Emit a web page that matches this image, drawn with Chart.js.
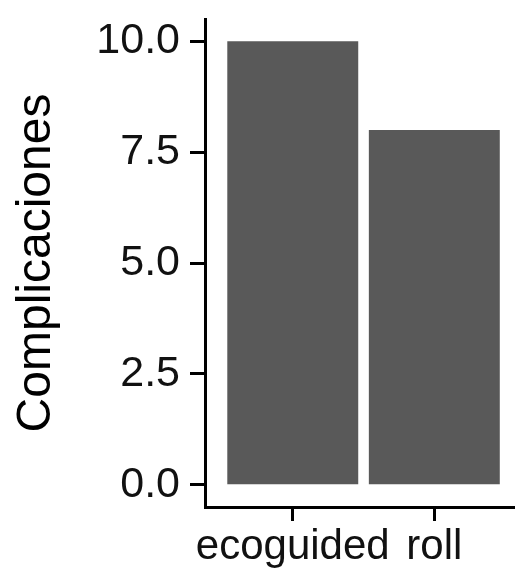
<!DOCTYPE html>
<html>
<head>
<meta charset="utf-8">
<script src="https://cdn.jsdelivr.net/npm/chart.js@4"></script>
<style>
  html, body { margin: 0; padding: 0; background: #fff; }
  #wrap { width: 515px; height: 568px; position: relative; }
</style>
</head>
<body>
<div id="wrap"><canvas id="barChart"></canvas></div>
<script>
// data
const categories = ["ecoguided", "roll"];
const complicaciones = [10, 8];
const yTicks = [0, 2.5, 5, 7.5, 10];

Chart.defaults.font.family = "'Liberation Sans', Arial, sans-serif";
Chart.defaults.color = "#111";

const ctx = document.getElementById("barChart").getContext("2d");
new Chart(ctx, {
    type: "bar",
    data: {
        datasets: [{
            label: "Complicaciones",
            data: categories.map((c, i) => ({ x: i + 1, y: complicaciones[i] })),
            backgroundColor: "#595959",
            borderWidth: 0,
            barPercentage: 0.925,
            categoryPercentage: 1
        }]
    },
    options: {
        responsive: true,
        maintainAspectRatio: false,
        animation: false,
        layout: { padding: { top: 19, left: 0, right: 0, bottom: 0 } },
        plugins: { legend: { display: false }, tooltip: { enabled: false } },
        scales: {
            x: {
                type: "linear",
                min: 0.38,
                max: 2.57,
                offset: false,
                afterBuildTicks: (scale) => { scale.ticks = categories.map((c, i) => ({ value: i + 1 })); },
                afterFit: (scale) => {
                    scale.height = 61;
                    scale.paddingLeft = 0;
                    scale.paddingRight = 0;
                },
                ticks: {
                    callback: (v) => categories[Math.round(v) - 1],
                    font: { size: 42 },
                    padding: 1,
                    maxRotation: 0,
                    autoSkip: false
                },
                grid: { display: true, offset: false, drawOnChartArea: false, tickLength: 14, tickWidth: 3, tickColor: "#000" },
                border: { display: true, color: "#000", width: 3 }
            },
            y: {
                min: -0.5,
                max: 10.5,
                afterBuildTicks: (scale) => { scale.ticks = yTicks.map(v => ({ value: v })); },
                afterFit: (scale) => {
                    scale.width = 205;
                    scale.paddingTop = 0;
                    scale.paddingBottom = 0;
                },
                ticks: {
                    callback: (v) => v.toFixed(1),
                    font: { size: 43 },
                    padding: 10
                },
                grid: { display: true, drawOnChartArea: false, tickLength: 15, tickWidth: 3, tickColor: "#000" },
                border: { display: true, color: "#000", width: 3 },
                title: {
                    display: true,
                    text: "Complicaciones",
                    font: { size: 48 },
                    color: "#000",
                    padding: { top: 8, bottom: 0 }
                }
            }
        }
    }
});
</script>
</body>
</html>
